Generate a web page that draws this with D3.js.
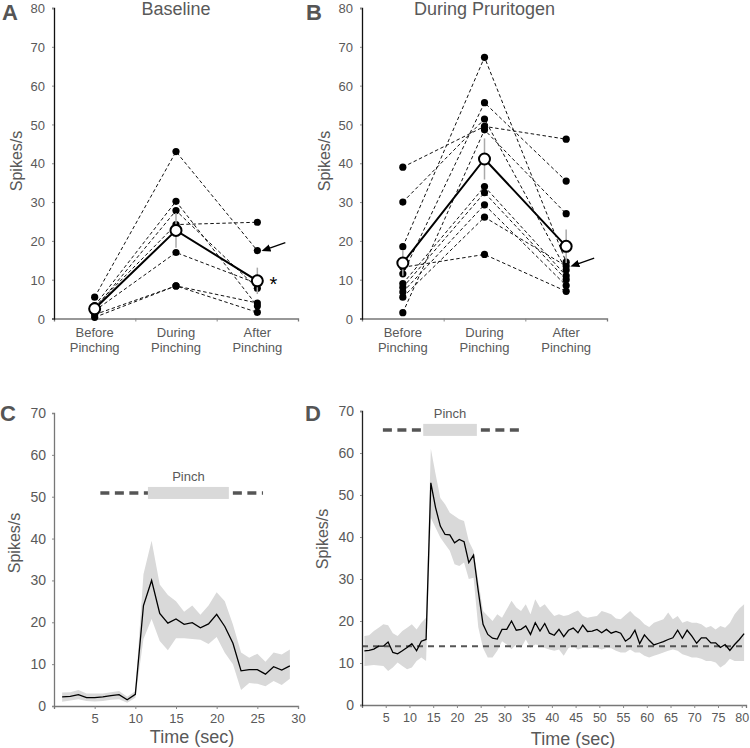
<!DOCTYPE html>
<html><head><meta charset="utf-8">
<script src="https://cdn.jsdelivr.net/npm/d3@7/dist/d3.min.js"></script>
<style>body{margin:0;background:#fff}svg{display:block}</style>
</head><body><svg id="c" width="750" height="748"></svg>
<script>
// ---------- DATA ----------
const categories = [["Before","Pinching"],["During","Pinching"],["After","Pinching"]];
const yTicksPaired = [0,10,20,30,40,50,60,70,80];

// Panel A – Baseline (one entry per neuron)
const baselineBefore = [5.5, 3.3, 2.5, 3.0, 2.0, 1.0, 0.3];
const baselineDuring = [43.0, 30.2, 27.8, 24.2, 17.0, 8.4, 8.4];
const baselineAfter  = [17.5, 3.2, 7.8, 24.8, 9.0, 4.0, 1.6];
const baselineMean   = [2.5, 22.7, 9.7];
const baselineSem    = [0.7, 4.5, 3.4];

// Panel B – During pruritogen
const pruritogenBefore = [39.0, 30.0, 18.5, 1.5, 11.5, 9.0, 8.0, 6.8, 5.5, 13.2];
const pruritogenDuring = [49.5, 51.4, 67.3, 48.6, 55.6, 34.0, 32.4, 29.3, 26.1, 16.5];
const pruritogenAfter  = [46.2, 12.5, 14.5, 27.0, 35.4, 11.0, 10.0, 8.5, 13.5, 7.0];
const pruritogenMean   = [14.3, 41.1, 18.6];
const pruritogenSem    = [3.3, 5.3, 4.3];

// Panel C – time course (1-s bins)
const timeC  = [1,2,3,4,5,6,7,8,9,10,11,12,13,14,15,16,17,18,19,20,21,22,23,24,25,26,27,28,29];
const meanC  = [2.2,2.3,2.7,2.0,2.0,2.2,2.5,2.7,1.5,2.8,24.0,30.0,22.1,19.8,20.8,19.5,19.9,18.7,19.6,21.9,19.0,15.0,8.4,8.7,8.7,7.6,9.4,8.6,9.6];
const upperC = [3.2,3.3,3.8,3.0,3.0,3.0,3.3,3.6,2.2,3.5,31.5,39.5,29.0,26.5,25.0,22.5,24.0,21.8,24.0,27.2,25.0,19.5,12.8,11.5,12.5,10.6,12.8,12.3,13.5];
const lowerC = [1.0,1.3,1.6,1.2,1.1,1.2,1.5,1.6,0.8,2.0,16.0,20.8,15.5,13.3,16.2,16.2,16.0,15.8,14.8,16.5,12.7,10.0,3.8,5.5,5.3,4.7,6.0,5.0,6.5];
const xTicksC = [5,10,15,20,25,30];
const yTicksC = [0,10,20,30,40,50,60,70];
const pinchC  = {dashFrom:5.7, barFrom:11.55, barTo:21.5, dashTo:25.7, level:50.9};

// Panel D – time course (1-s bins, centres at t = 0.5 ... 80.5)
const timeD = d3.range(0.5, 81, 1);
const meanD = [12.9,13.0,13.3,14.0,14.0,15.0,12.5,12.2,12.9,13.7,14.6,12.9,15.2,15.6,52.9,47.0,42.6,40.6,40.5,38.6,
  39.4,38.9,33.9,35.7,27.1,19.2,16.8,15.9,15.7,18.0,18.0,20.0,17.8,18.0,18.8,16.8,19.6,17.6,19.4,17.1,
  16.6,18.0,16.3,17.8,18.3,17.2,19.0,17.5,17.6,18.0,17.2,18.0,17.1,17.5,17.1,15.2,16.0,17.8,14.6,16.7,
  15.4,14.3,14.7,15.1,15.6,16.0,17.8,15.9,17.8,16.4,14.7,16.0,16.0,14.8,14.8,13.7,14.4,13.0,14.4,15.6,17.0];
const upperD = [16.4,16.6,17.6,18.4,19.2,19.0,17.1,16.4,17.6,18.4,19.2,18.0,19.6,20.8,61.0,55.0,49.3,47.8,45.8,45.0,
  44.2,43.8,39.0,36.7,29.5,22.4,21.2,20.0,21.6,20.8,22.8,24.8,23.2,22.4,24.0,21.6,25.2,23.2,24.0,22.5,
  21.2,21.6,21.2,21.4,22.0,22.5,21.2,20.8,21.0,21.2,22.4,22.0,21.6,20.6,20.4,21.4,22.4,21.2,20.4,19.2,
  18.6,19.6,20.0,20.4,22.0,20.4,21.2,19.6,20.0,19.6,19.6,19.2,18.4,18.8,18.0,18.8,18.4,19.5,21.6,23.0,24.0];
const lowerD = [9.3,9.4,9.5,9.4,9.3,8.1,8.9,10.1,9.3,8.5,8.9,10.5,11.3,10.5,44.6,42.2,39.9,38.3,36.7,33.5,
  33.1,33.9,30.0,30.3,18.5,13.6,11.3,11.3,12.9,15.2,14.4,13.3,14.4,13.6,15.6,13.6,14.4,14.2,13.6,13.2,
  12.9,13.2,11.7,13.6,14.0,13.2,13.6,13.6,13.6,13.6,13.2,13.6,13.5,12.9,12.5,12.5,13.2,12.5,12.5,11.7,
  11.3,11.7,12.1,12.5,12.9,13.2,12.9,12.1,11.7,11.3,11.3,11.0,10.5,10.5,10.1,8.9,9.7,11.0,10.5,10.5,10.5];
const xTicksD = [5,10,15,20,25,30,35,40,45,50,55,60,65,70,75,80];
const yTicksD = [0,10,20,30,40,50,60,70];
const pinchD  = {dashFrom:4.4, barFrom:12.9, barTo:24.2, dashTo:33.9, level:65.5};
const baselineLevelD = 14.0;

// ---------- DRAWING ----------
const FONT = '"Liberation Sans", Arial, Helvetica, sans-serif';
const TXT = "#595959";
const svg = d3.select("#c");

function styleAxis(g, lineColor, fontSize) {
  g.attr("font-family", FONT).attr("font-size", fontSize);
  g.select(".domain").attr("stroke", lineColor).attr("stroke-width", 1.3);
  g.selectAll(".tick line").attr("stroke", "#888");
  g.selectAll(".tick text").attr("fill", TXT);
}

function panelLetter(txt, x, y) {
  svg.append("text").attr("x", x).attr("y", y).text(txt)
    .attr("font-family", FONT).attr("font-weight", "bold").attr("font-size", 22).attr("fill", "#555");
}

function yTitle(x, y) {
  svg.append("text").attr("transform", `translate(${x},${y}) rotate(-90)`)
    .attr("text-anchor", "middle").attr("font-family", FONT).attr("font-size", 16)
    .attr("fill", TXT).text("Spikes/s");
}

function pairedPanel(cfg) {
  const x = d3.scaleLinear().domain([0, 3]).range(cfg.xr);
  const y = d3.scaleLinear().domain([0, 80]).range([318.5, 8]);
  const g = svg.append("g");

  const xa = g.append("g").attr("transform", `translate(0,${y(0)})`)
    .call(d3.axisBottom(x).tickValues([1, 2]).tickSize(3).tickFormat(""));
  styleAxis(xa, "#777", 13);
  const ya = g.append("g").attr("transform", `translate(${cfg.xr[0]},0)`)
    .call(d3.axisLeft(y).tickValues(yTicksPaired).tickSize(2).tickPadding(7));
  styleAxis(ya, "#111", 13);
  ya.selectAll(".tick text").attr("dy", "0.36em");

  // category labels
  categories.forEach((lines, i) => {
    const t = g.append("text").attr("text-anchor", "middle").attr("font-family", FONT)
      .attr("font-size", 13).attr("fill", TXT);
    lines.forEach((s, k) => t.append("tspan").attr("x", x(i + 0.5)).attr("y", 337 + k * 14.5).text(s));
  });

  const neurons = cfg.before.map((b, i) => [b, cfg.during[i], cfg.after[i]]);
  const line = d3.line().x((d, i) => x(i + 0.5)).y(d => y(d));
  g.selectAll(".nl").data(neurons).join("path").attr("d", line)
    .attr("fill", "none").attr("stroke", "#111").attr("stroke-width", 1)
    .attr("stroke-dasharray", "3.5,2.5");
  const pts = [];
  neurons.forEach(n => n.forEach((v, i) => pts.push([i, v])));
  g.selectAll(".dot").data(pts).join("circle")
    .attr("cx", d => x(d[0] + 0.5)).attr("cy", d => y(d[1])).attr("r", 3.6).attr("fill", "#000");

  // SEM bars
  g.selectAll(".eb").data(cfg.mean).join("line")
    .attr("x1", (d, i) => x(i + 0.5)).attr("x2", (d, i) => x(i + 0.5))
    .attr("y1", (d, i) => y(d + cfg.sem[i])).attr("y2", (d, i) => y(d - cfg.sem[i]))
    .attr("stroke", "#aaa").attr("stroke-width", 1.5);
  g.append("path").datum(cfg.mean).attr("d", line).attr("fill", "none")
    .attr("stroke", "#000").attr("stroke-width", 2);
  g.selectAll(".mc").data(cfg.mean).join("circle")
    .attr("cx", (d, i) => x(i + 0.5)).attr("cy", d => y(d)).attr("r", 5.5)
    .attr("fill", "#fff").attr("stroke", "#000").attr("stroke-width", 2);

  // title
  g.append("text").attr("x", x(1.5)).attr("y", 15).attr("text-anchor", "middle")
    .attr("font-family", FONT).attr("font-size", 18).attr("fill", TXT).text(cfg.title);

  // arrow pointing at one neuron's after value
  const ax = x(2.5), ay = y(cfg.arrowValue);
  g.append("line").attr("x1", ax + 28).attr("y1", ay - 8).attr("x2", ax + 11).attr("y2", ay - 2)
    .attr("stroke", "#000").attr("stroke-width", 1.3).attr("marker-end", "url(#arr)");
  return {x, y, g};
}

svg.append("defs").append("marker").attr("id", "arr").attr("viewBox", "0 0 10 10")
  .attr("refX", 2).attr("refY", 5).attr("markerWidth", 7).attr("markerHeight", 7)
  .attr("orient", "auto").append("path").attr("d", "M0,1 L10,5 L0,9 Z").attr("fill", "#000");

const A = pairedPanel({xr: [54, 298], title: "Baseline", before: baselineBefore, during: baselineDuring,
  after: baselineAfter, mean: baselineMean, sem: baselineSem, arrowValue: baselineAfter[0]});
A.g.append("text").attr("x", A.x(2.5) + 16).attr("y", A.y(baselineMean[2]) + 10).attr("text-anchor", "middle")
  .attr("font-family", FONT).attr("font-size", 20).attr("fill", "#000").text("*");
const B = pairedPanel({xr: [362, 607], title: "During Pruritogen", before: pruritogenBefore, during: pruritogenDuring,
  after: pruritogenAfter, mean: pruritogenMean, sem: pruritogenSem, arrowValue: 13.5});

panelLetter("A", 2, 20); panelLetter("B", 306, 20);
yTitle(22, 161); yTitle(330, 161);

function tracePanel(cfg) {
  const x = d3.scaleLinear().domain(cfg.xd).range(cfg.xr);
  const y = d3.scaleLinear().domain([0, 70]).range(cfg.yr);
  const g = svg.append("g");
  const pts = cfg.t.map((t, i) => ({t, m: cfg.mean[i], u: cfg.upper[i], l: cfg.lower[i]}));

  g.append("path").datum(pts).attr("d", d3.area().x(d => x(d.t)).y0(d => y(d.l)).y1(d => y(d.u)))
    .attr("fill", "#d9d9d9");

  // pinch marker
  const p = cfg.pinch;
  g.append("line").attr("x1", x(p.dashFrom)).attr("x2", x(p.barFrom)).attr("y1", y(p.level)).attr("y2", y(p.level))
    .attr("stroke", "#555").attr("stroke-width", 3.5).attr("stroke-dasharray", "9,5.5");
  g.append("line").attr("x1", x(p.barTo) + 4).attr("x2", x(p.dashTo)).attr("y1", y(p.level)).attr("y2", y(p.level))
    .attr("stroke", "#555").attr("stroke-width", 3.5).attr("stroke-dasharray", "9,5.5");
  g.append("rect").attr("x", x(p.barFrom)).attr("width", x(p.barTo) - x(p.barFrom))
    .attr("y", y(p.level) - 6).attr("height", 12).attr("fill", "#d9d9d9");
  g.append("text").attr("x", (x(p.barFrom) + x(p.barTo)) / 2).attr("y", y(p.level) - 12)
    .attr("text-anchor", "middle").attr("font-family", FONT).attr("font-size", 13).attr("fill", TXT).text("Pinch");

  if (cfg.baseline != null) {
    g.append("line").attr("x1", cfg.xr[0]).attr("x2", cfg.xr[1]).attr("y1", y(cfg.baseline)).attr("y2", y(cfg.baseline))
      .attr("stroke", "#555").attr("stroke-width", 2).attr("stroke-dasharray", "6,5");
  }

  g.append("path").datum(pts).attr("d", d3.line().x(d => x(d.t)).y(d => y(d.m)))
    .attr("fill", "none").attr("stroke", "#000").attr("stroke-width", 1.3);

  const xa = g.append("g").attr("transform", `translate(0,${y(0)})`)
    .call(d3.axisBottom(x).tickValues(cfg.xTicks).tickSize(3).tickPadding(5));
  styleAxis(xa, "#777", cfg.xFont);
  const ya = g.append("g").attr("transform", `translate(${cfg.xr[0]},0)`)
    .call(d3.axisLeft(y).tickValues(cfg.yTicks).tickSize(2).tickPadding(6));
  styleAxis(ya, cfg.yLine, 14);
  g.append("text").attr("x", cfg.titleX).attr("y", cfg.titleY).attr("text-anchor", "middle")
    .attr("font-family", FONT).attr("font-size", 18).attr("fill", TXT).text("Time (sec)");
}

tracePanel({t: timeC, mean: meanC, upper: upperC, lower: lowerC, xd: [0, 30], xr: [54, 298], yr: [706, 413],
  xTicks: xTicksC, yTicks: yTicksC, pinch: pinchC, baseline: null, xFont: 13, yLine: "#777",
  titleX: 192, titleY: 743});
tracePanel({t: timeD, mean: meanD, upper: upperD, lower: lowerD, xd: [0, 80.9], xr: [362, 746], yr: [705, 411],
  xTicks: xTicksD, yTicks: yTicksD, pinch: pinchD, baseline: baselineLevelD, xFont: 12.5, yLine: "#222",
  titleX: 573, titleY: 745});

panelLetter("C", 0, 421); panelLetter("D", 305, 421);
yTitle(20, 543); yTitle(328, 539);
</script></body></html>
